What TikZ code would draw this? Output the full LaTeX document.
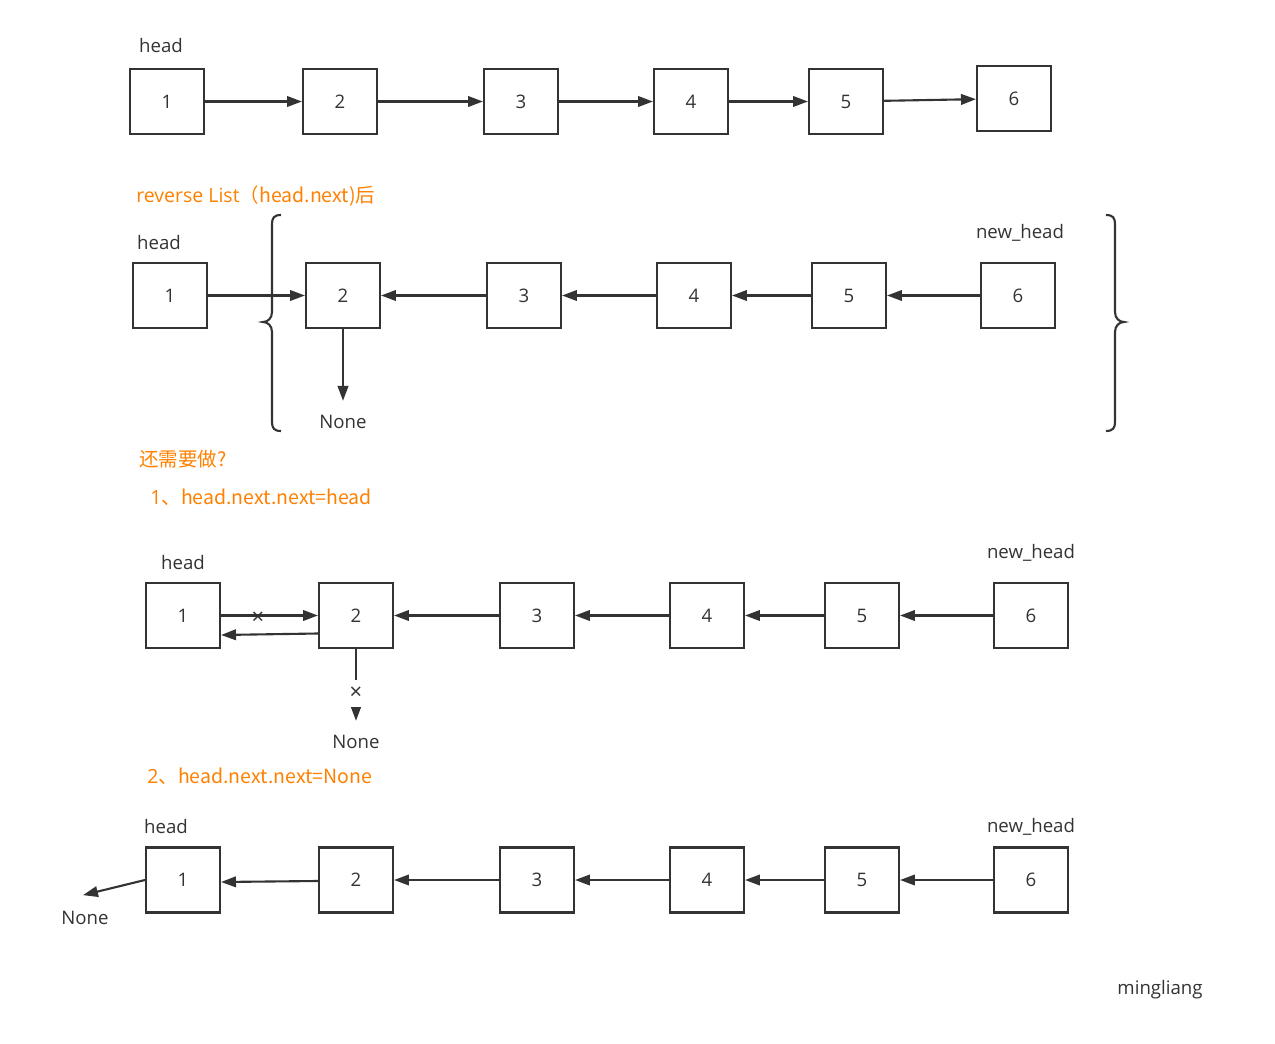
\documentclass[tikz,border=0pt]{standalone}
\usepackage{fontspec}
\setmainfont{Open Sans}
\newfontfamily\cjk{Noto Sans CJK SC}
\usepackage{tikz}
\usetikzlibrary{arrows.meta,calc}
\definecolor{ink}{HTML}{333333}
\definecolor{hint}{HTML}{FF8000}

\begin{document}
\begin{tikzpicture}[x=0.02cm,y=-0.02cm,font=\fontsize{10.6}{13}\selectfont,
  box/.style={draw=ink,line width=1.2pt,minimum width=1.48cm,minimum height=1.3cm,inner sep=0pt,text=ink},
  lbl/.style={text=ink,inner sep=1pt},
  note/.style={text=hint,anchor=west,inner sep=0pt,font=\fontsize{11.1}{13}\selectfont},
  cross/.style={text=ink,inner sep=1pt,font=\fontsize{12.5}{12}\selectfont},
  link/.style={draw=ink,line width=1.2pt,-{Triangle[length=8.5pt,width=6pt]}},
  curly/.style={draw=ink,line width=1.2pt}]
\useasboundingbox (0,0) rectangle (1275,1044);

\node[box] (a1) at (167,101.5) {1};
\node[box] (a2) at (340,101.5) {2};
\node[box] (a3) at (521,101.5) {3};
\node[box] (a4) at (691,101.5) {4};
\node[box] (a5) at (846,101.5) {5};
\node[box] (a6) at (1014,98.5) {6};
\node[lbl] (ha) at (161,46) {head};
\draw[link] (a1) -- (a2);
\draw[link] (a2) -- (a3);
\draw[link] (a3) -- (a4);
\draw[link] (a4) -- (a5);
\draw[link] (a5) -- (a6);

\node[note] (t1) at (136,196) {reverse List\cjk{（}head.next)\cjk{后}};
\node[box] (b1) at (170,295.5) {1};
\node[box] (b2) at (343,295.5) {2};
\node[box] (b3) at (524,295.5) {3};
\node[box] (b4) at (694,295.5) {4};
\node[box] (b5) at (849,295.5) {5};
\node[box] (b6) at (1018,295.5) {6};
\node[lbl] (hb) at (159,243) {head};
\node[lbl] (nhb) at (1020,233) {new\_head};
\node[lbl] (nb) at (343,422) {None};
\draw[link] (b1) -- (b2);
\draw[link] (b3) -- (b2);
\draw[link] (b4) -- (b3);
\draw[link] (b5) -- (b4);
\draw[link] (b6) -- (b5);
\draw[link,shorten >=7pt] (b2) -- (nb);
\draw[curly] (281,215) .. controls (274,215) and (272,218) .. (272,224) -- (272,312)
  .. controls (272,318) and (268,322) .. (263,322) .. controls (268,322) and (272,326) .. (272,332)
  -- (272,422) .. controls (272,428) and (274,431) .. (281,431);
\draw[curly] (1106,215) .. controls (1113,215) and (1115,218) .. (1115,224) -- (1115,312)
  .. controls (1115,318) and (1119,322) .. (1124,322) .. controls (1119,322) and (1115,326) .. (1115,332)
  -- (1115,422) .. controls (1115,428) and (1113,431) .. (1106,431);

\node[note] (t2) at (139,459) {\cjk{还需要做?}};
\node[note] (t3) at (150,497) {1\cjk{、}head.next.next=head};
\node[box] (c1) at (183,615.5) {1};
\node[box] (c2) at (356,615.5) {2};
\node[box] (c3) at (537,615.5) {3};
\node[box] (c4) at (707,615.5) {4};
\node[box] (c5) at (862,615.5) {5};
\node[box] (c6) at (1031,615.5) {6};
\node[lbl] (hc) at (183,563) {head};
\node[lbl] (nhc) at (1031,553) {new\_head};
\node[lbl] (nc) at (356,742) {None};
\draw[link] (c1) -- node[cross,pos=0.38,yshift=-1.5pt] {×} (c2);
\draw[link] ($(c2.west)+(0,18)$) -- ($(c1.east)+(0,19.5)$);
\draw[link] (c3) -- (c2);
\draw[link] (c4) -- (c3);
\draw[link] (c5) -- (c4);
\draw[link] (c6) -- (c5);
\draw[link,shorten >=7pt] (c2) -- node[cross,pos=0.53,fill=white,inner ysep=4pt] {×} (nc);

\node[note] (t4) at (147,776) {2\cjk{、}head.next.next=None};
\node[box] (d1) at (183,880) {1};
\node[box] (d2) at (356,880) {2};
\node[box] (d3) at (537,880) {3};
\node[box] (d4) at (707,880) {4};
\node[box] (d5) at (862,880) {5};
\node[box] (d6) at (1031,880) {6};
\node[lbl] (hd) at (166,827) {head};
\node[lbl] (nhd) at (1031,827) {new\_head};
\node[lbl] (nd) at (85,918) {None};
\coordinate (ndtip) at ($(nd.north)+(-2,-14)$);
\draw[link] (d1.west) -- (ndtip);
\draw[link] ($(d2.west)+(0,1)$) -- ($(d1.east)+(0,2)$);
\draw[link] (d3) -- (d2);
\draw[link] (d4) -- (d3);
\draw[link] (d5) -- (d4);
\draw[link] (d6) -- (d5);

\node[lbl] (sig) at (1160,990) {mingliang};
\end{tikzpicture}
\end{document}
